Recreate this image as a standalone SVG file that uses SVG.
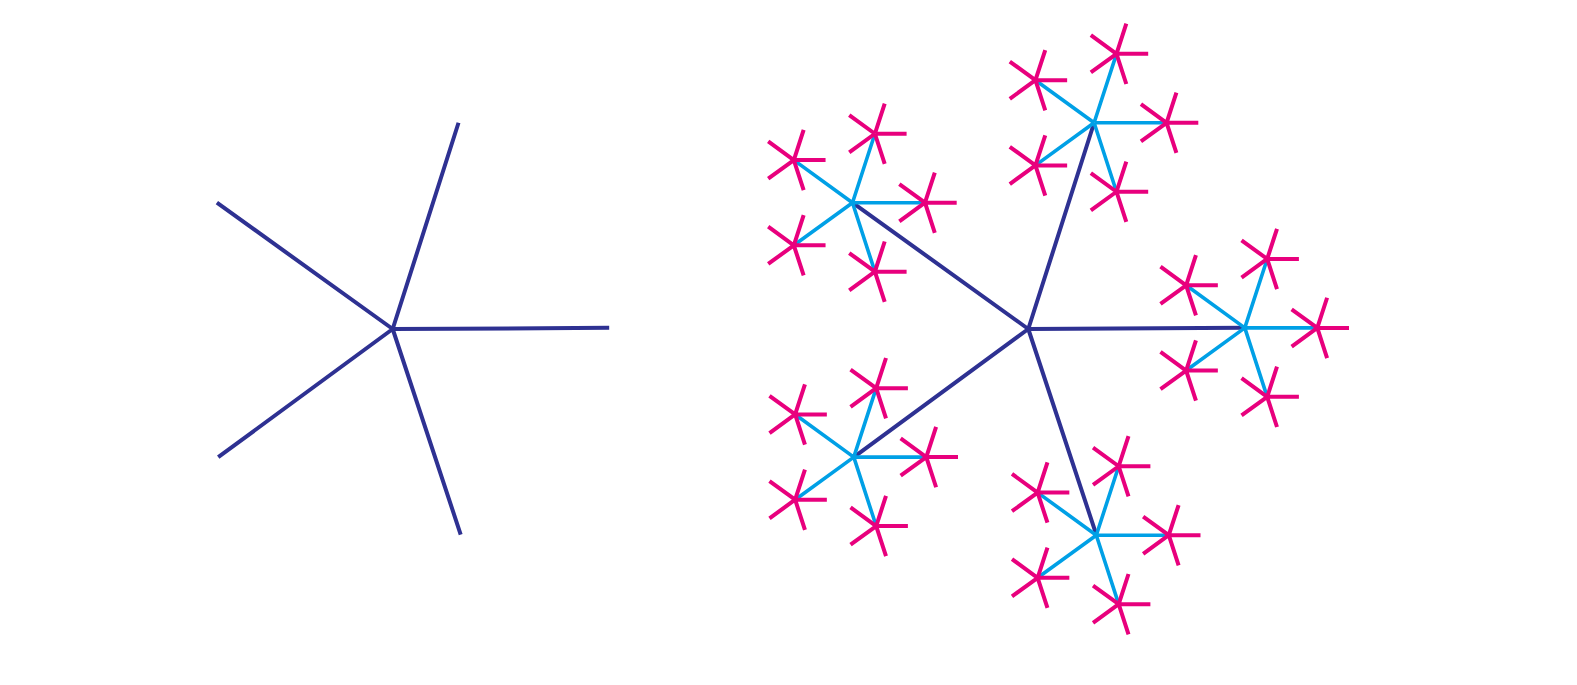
<svg xmlns="http://www.w3.org/2000/svg" width="1577" height="685" viewBox="0 0 1577 685">
  <style>
    .main { fill: none; stroke: #2e3192; stroke-width: 4; stroke-linecap: butt; }
    .blue { fill: none; stroke: #00a0e6; stroke-width: 3.6; stroke-linecap: butt; }
    .pink { fill: none; stroke: #e8007d; stroke-width: 4; stroke-linecap: butt; }
  </style>
  <defs>
    <path id="starMain" d="M0 0H216.5M0 0L66.9 -205.9M0 0L-175.15 -127.26M0 0L66.9 205.9M0 0L-175.15 127.26"/>
    <path id="starBlue" d="M0 0H72.5M0 0L22.4 -68.95M0 0L-58.65 -42.61M0 0L22.4 68.95M0 0L-58.65 42.61"/>
    <path id="starPink" d="M0 0H31.7M0 0L9.8 -30.15M0 0L-25.65 -18.63M0 0L9.8 30.15M0 0L-25.65 18.63"/>
    <g id="cluster">
      <use href="#starBlue" class="blue"/>
      <use href="#starPink" class="pink" transform="translate(72.5 0)"/>
      <use href="#starPink" class="pink" transform="translate(22.4 -68.95)"/>
      <use href="#starPink" class="pink" transform="translate(-58.65 -42.61)"/>
      <use href="#starPink" class="pink" transform="translate(22.4 68.95)"/>
      <use href="#starPink" class="pink" transform="translate(-58.65 42.61)"/>
    </g>
  </defs>
  <rect width="1577" height="685" fill="#ffffff"/>
  <g id="simple-star">
    <use href="#starMain" class="main" transform="translate(392.7 329) rotate(-0.3)"/>
  </g>
  <g id="fractal-star">
    <g id="connectors">
      <use href="#starMain" class="main" transform="translate(1028.3 329) rotate(-0.3)"/>
    </g>
    <g id="cluster-right"><use href="#cluster" transform="translate(1244.8 327.9)"/></g>
    <g id="cluster-top"><use href="#cluster" transform="translate(1094.1 122.8)"/></g>
    <g id="cluster-upper-left"><use href="#cluster" transform="translate(852.5 202.7)"/></g>
    <g id="cluster-bottom"><use href="#cluster" transform="translate(1096.3 535.2)"/></g>
    <g id="cluster-lower-left"><use href="#cluster" transform="translate(853.8 457.1)"/></g>
  </g>
</svg>
